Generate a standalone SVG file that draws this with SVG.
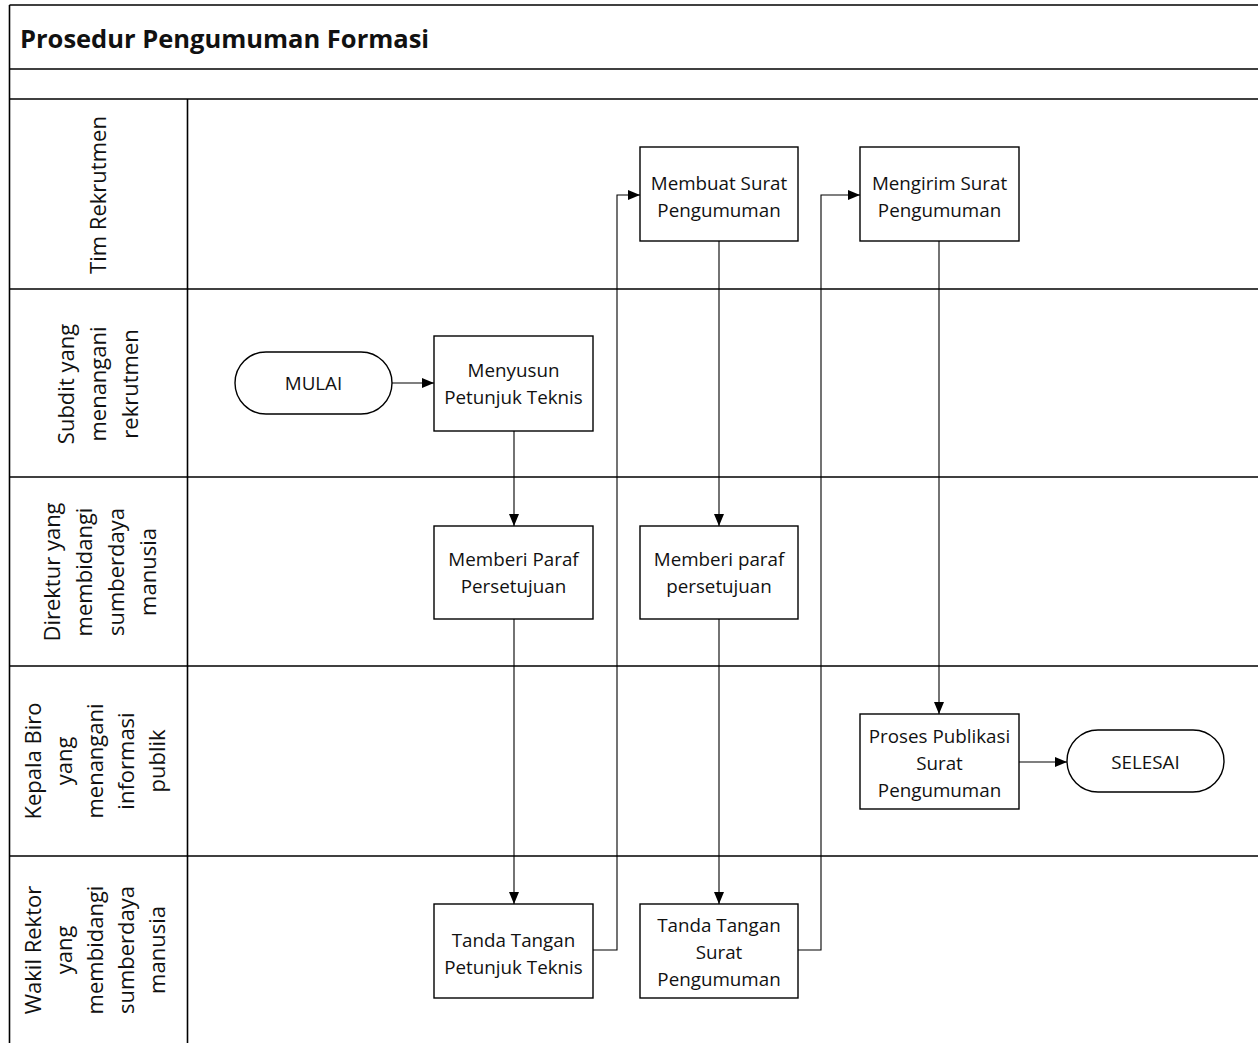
<svg xmlns="http://www.w3.org/2000/svg" width="1258" height="1043" viewBox="0 0 1258 1043">
<style>
.frame{stroke:#000;stroke-width:1.6;fill:none}
.box{fill:#fff;stroke:#000;stroke-width:1.4}
.t{font-family:"Open Sans","Noto Sans",sans-serif;font-size:18.8px;fill:#111;text-anchor:middle}
.lane{font-family:"Open Sans","Noto Sans",sans-serif;font-size:22px;fill:#111;text-anchor:middle}
.title{font-family:"Open Sans","Noto Sans",sans-serif;font-size:25.5px;font-weight:bold;fill:#111}
.c{stroke:#000;stroke-width:1.1;fill:none}
</style>
<defs>
<marker id="arr" markerWidth="12" markerHeight="10" refX="12" refY="5" orient="auto" markerUnits="userSpaceOnUse">
<path d="M0,0 L12,5 L0,10 Z" fill="#000"/>
</marker>
</defs>
<rect width="1258" height="1043" fill="#fff"/>
<g id="frame">
<line class="frame" x1="9.5" y1="5" x2="1258" y2="5"/>
<line class="frame" x1="9.5" y1="69" x2="1258" y2="69"/>
<line class="frame" x1="9.5" y1="99" x2="1258" y2="99"/>
<line class="frame" x1="9.5" y1="289" x2="1258" y2="289"/>
<line class="frame" x1="9.5" y1="477" x2="1258" y2="477"/>
<line class="frame" x1="9.5" y1="666" x2="1258" y2="666"/>
<line class="frame" x1="9.5" y1="856" x2="1258" y2="856"/>
<line class="frame" x1="9.5" y1="5" x2="9.5" y2="1043"/>
<line class="frame" x1="187.5" y1="99" x2="187.5" y2="1043"/>
<text class="title" x="20" y="48">Prosedur Pengumuman Formasi</text>
</g>
<g id="lanes">
<g id="lane-tim" transform="translate(99,195) rotate(-90)">
<text class="lane" x="0" y="7">Tim Rekrutmen</text>
</g>
<g id="lane-subdit" transform="translate(99,384) rotate(-90)">
<text class="lane" x="0" y="-25">Subdit yang</text>
<text class="lane" x="0" y="7">menangani</text>
<text class="lane" x="0" y="39">rekrutmen</text>
</g>
<g id="lane-direktur" transform="translate(101,572) rotate(-90)">
<text class="lane" x="0" y="-41">Direktur yang</text>
<text class="lane" x="0" y="-9">membidangi</text>
<text class="lane" x="0" y="23">sumberdaya</text>
<text class="lane" x="0" y="55">manusia</text>
</g>
<g id="lane-kepala" transform="translate(98,761) rotate(-90)">
<text class="lane" x="0" y="-57">Kepala Biro</text>
<text class="lane" x="0" y="-26">yang</text>
<text class="lane" x="0" y="5">menangani</text>
<text class="lane" x="0" y="36">informasi</text>
<text class="lane" x="0" y="67">publik</text>
</g>
<g id="lane-wakil" transform="translate(98,950) rotate(-90)">
<text class="lane" x="0" y="-57">Wakil Rektor</text>
<text class="lane" x="0" y="-26">yang</text>
<text class="lane" x="0" y="5">membidangi</text>
<text class="lane" x="0" y="36">sumberdaya</text>
<text class="lane" x="0" y="67">manusia</text>
</g>
</g>
<g id="connectors">
<line class="c" x1="392" y1="383" x2="434" y2="383" marker-end="url(#arr)"/>
<line class="c" x1="514" y1="431" x2="514" y2="526" marker-end="url(#arr)"/>
<line class="c" x1="514" y1="619" x2="514" y2="904" marker-end="url(#arr)"/>
<polyline class="c" points="593,950 617,950 617,195 640,195" marker-end="url(#arr)"/>
<line class="c" x1="719" y1="241" x2="719" y2="526" marker-end="url(#arr)"/>
<line class="c" x1="719" y1="619" x2="719" y2="904" marker-end="url(#arr)"/>
<polyline class="c" points="798,950 821,950 821,195 860,195" marker-end="url(#arr)"/>
<line class="c" x1="939" y1="241" x2="939" y2="714" marker-end="url(#arr)"/>
<line class="c" x1="1019" y1="762" x2="1067" y2="762" marker-end="url(#arr)"/>
</g>
<g id="n-mulai">
<rect class="box" x="235" y="352" width="157" height="62" rx="31"/>
<text class="t" x="313.5" y="390">MULAI</text>
</g>
<g id="n-menyusun">
<rect class="box" x="434" y="336" width="159" height="95"/>
<text class="t" x="513.5" y="377">Menyusun</text>
<text class="t" x="513.5" y="404">Petunjuk Teknis</text>
</g>
<g id="n-paraf1">
<rect class="box" x="434" y="526" width="159" height="93"/>
<text class="t" x="513.5" y="566">Memberi Paraf</text>
<text class="t" x="513.5" y="593">Persetujuan</text>
</g>
<g id="n-ttpt">
<rect class="box" x="434" y="904" width="159" height="94"/>
<text class="t" x="513.5" y="947">Tanda Tangan</text>
<text class="t" x="513.5" y="974">Petunjuk Teknis</text>
</g>
<g id="n-membuat">
<rect class="box" x="640" y="147" width="158" height="94"/>
<text class="t" x="719" y="190">Membuat Surat</text>
<text class="t" x="719" y="217">Pengumuman</text>
</g>
<g id="n-paraf2">
<rect class="box" x="640" y="526" width="158" height="93"/>
<text class="t" x="719" y="566">Memberi paraf</text>
<text class="t" x="719" y="593">persetujuan</text>
</g>
<g id="n-ttsurat">
<rect class="box" x="640" y="904" width="158" height="94"/>
<text class="t" x="719" y="932">Tanda Tangan</text>
<text class="t" x="719" y="959">Surat</text>
<text class="t" x="719" y="986">Pengumuman</text>
</g>
<g id="n-mengirim">
<rect class="box" x="860" y="147" width="159" height="94"/>
<text class="t" x="939.5" y="190">Mengirim Surat</text>
<text class="t" x="939.5" y="217">Pengumuman</text>
</g>
<g id="n-proses">
<rect class="box" x="860" y="714" width="159" height="95"/>
<text class="t" x="939.5" y="743">Proses Publikasi</text>
<text class="t" x="939.5" y="770">Surat</text>
<text class="t" x="939.5" y="797">Pengumuman</text>
</g>
<g id="n-selesai">
<rect class="box" x="1067" y="730" width="157" height="62" rx="31"/>
<text class="t" x="1145.5" y="769">SELESAI</text>
</g>
</svg>
